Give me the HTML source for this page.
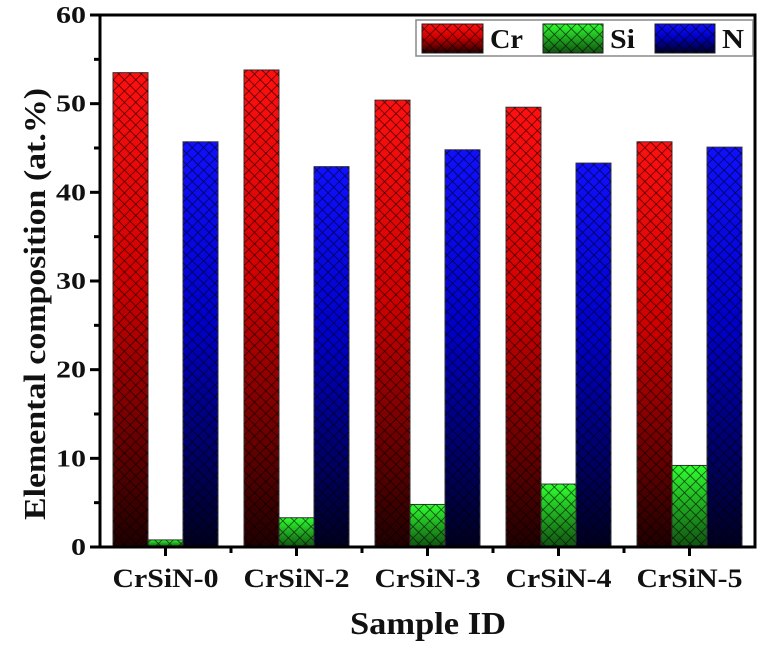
<!DOCTYPE html>
<html><head><meta charset="utf-8"><style>
body{margin:0;background:#fff}
text{font-family:"Liberation Serif",serif;font-weight:bold;fill:#111}
</style></head><body>
<svg width="763" height="648" xmlns="http://www.w3.org/2000/svg">
<defs>
<pattern id="hatch" width="8" height="8" patternUnits="userSpaceOnUse" patternTransform="rotate(45)">
<path d="M0 0V8M0 0H8" stroke="#000" stroke-width="1.4" stroke-opacity="0.75" fill="none"/>
</pattern>
<linearGradient id="gCr" x1="0" y1="0" x2="0" y2="1"><stop offset="0" stop-color="#ff1010"/><stop offset="0.45" stop-color="#d00000"/><stop offset="1" stop-color="#200000"/></linearGradient>
<linearGradient id="gSi" x1="0" y1="0" x2="0" y2="1"><stop offset="0" stop-color="#30ff30"/><stop offset="1" stop-color="#105010"/></linearGradient>
<linearGradient id="gN" x1="0" y1="0" x2="0" y2="1"><stop offset="0" stop-color="#1010ff"/><stop offset="0.45" stop-color="#0000c8"/><stop offset="1" stop-color="#000020"/></linearGradient>
</defs>
<g id="bars"></g><g id="axes"></g>
<g>
<rect x="416" y="20" width="337" height="36" fill="#fff" stroke="#888" stroke-width="1.5"/>
<rect x="422" y="24" width="61" height="29" fill="url(#gCr)" stroke="#222"/><rect x="422" y="24" width="61" height="29" fill="url(#hatch)"/>
<text x="490" y="48" font-size="27" textLength="33" lengthAdjust="spacingAndGlyphs">Cr</text>
<rect x="543" y="24" width="60" height="29" fill="url(#gSi)" stroke="#222"/><rect x="543" y="24" width="60" height="29" fill="url(#hatch)"/>
<text x="610" y="48" font-size="27" textLength="25" lengthAdjust="spacingAndGlyphs">Si</text>
<rect x="655" y="24" width="60" height="29" fill="url(#gN)" stroke="#222"/><rect x="655" y="24" width="60" height="29" fill="url(#hatch)"/>
<text x="722" y="48" font-size="27" textLength="22" lengthAdjust="spacingAndGlyphs">N</text>
</g>
<text x="350" y="634" font-size="32" textLength="156" lengthAdjust="spacingAndGlyphs">Sample ID</text>
<text transform="translate(45,520) rotate(-90)" font-size="31" textLength="432" lengthAdjust="spacingAndGlyphs">Elemental composition (at.%)</text>
</svg>
<script>
const categories=["CrSiN-0","CrSiN-2","CrSiN-3","CrSiN-4","CrSiN-5"];
const crValues=[53.5,53.8,50.4,49.6,45.7];
const siValues=[0.8,3.3,4.8,7.1,9.2];
const nValues=[45.7,42.9,44.8,43.3,45.1];
const yTicks=[0,10,20,30,40,50,60];
const NS="http://www.w3.org/2000/svg";
const x0=100,x1=755,y0=547,y1=15;
const xs=i=>x0+(i+0.5)*(x1-x0)/categories.length;
const ys=v=>y0-(v/60)*(y0-y1);
function mk(t,a,p){const e=document.createElementNS(NS,t);for(const k in a)e.setAttribute(k,a[k]);p.appendChild(e);return e;}
const bars=document.getElementById('bars'),axes=document.getElementById('axes');
const series=[[crValues,'gCr','cr'],[siValues,'gSi','si'],[nValues,'gN','n']];
const bw=35;
categories.forEach((c,i)=>{
  series.forEach(([vals,g,n],j)=>{
    const x=xs(i)-1.5*bw+j*bw, y=ys(vals[i]), h=y0-y;
    const r=mk('rect',{x:x,y:y,width:bw,height:h,fill:'url(#'+g+')',stroke:'#333','stroke-width':1},bars);
    
    
    mk('rect',{x:x,y:y,width:bw,height:h,fill:'url(#hatch)'},bars);
  });
  const t=mk('text',{x:xs(i)-53,y:587,'font-size':26,textLength:106,lengthAdjust:'spacingAndGlyphs'},axes);t.textContent=c;
  
  
  mk('line',{x1:xs(i),y1:y0,x2:xs(i),y2:y0+9,stroke:'#000','stroke-width':3},axes);
  if(i>0)mk('line',{x1:xs(i-0.5),y1:y0,x2:xs(i-0.5),y2:y0+6,stroke:'#000','stroke-width':3},axes);
});
mk('rect',{x:x0,y:y1,width:x1-x0,height:y0-y1,fill:'none',stroke:'#000','stroke-width':3},axes);
yTicks.forEach((v,k)=>{
  mk('line',{x1:x0-10,y1:ys(v),x2:x0,y2:ys(v),stroke:'#000','stroke-width':3},axes);
  if(k<yTicks.length-1)mk('line',{x1:x0-6,y1:ys(v+5),x2:x0,y2:ys(v+5),stroke:'#000','stroke-width':3},axes);
  const s=String(v);
  const w=s.length*15;
  const t=mk('text',{x:86-w,y:ys(v)+8,'font-size':24,textLength:w,lengthAdjust:'spacingAndGlyphs'},axes);t.textContent=s;
  
  
});
</script>
</body></html>
